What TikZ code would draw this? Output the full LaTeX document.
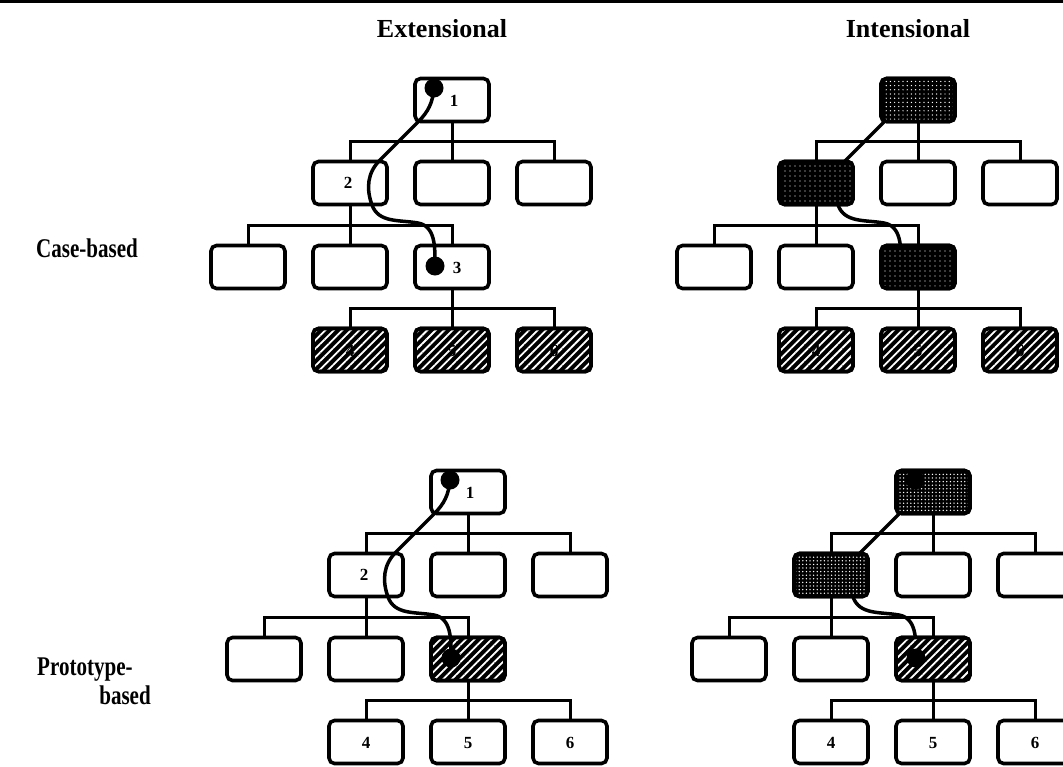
\documentclass[tikz,border=0pt]{standalone}
\usepackage{fontspec}
\usepackage{graphicx}
\setmainfont{Liberation Serif}
\usetikzlibrary{patterns.meta}
\tikzset{
  box/.style={draw, line width=3.6pt, rounded corners=5.5pt, minimum width=74pt, minimum height=43pt, inner sep=0pt, fill=white},
  link/.style={line width=3pt},
  route/.style={line width=3.5pt, line cap=round},
  hatchfill/.style={fill=black, postaction={pattern={Lines[angle=45,distance=6pt,line width=1.8pt]}, pattern color=white}, postaction={draw}},
  darkfill/.style={fill=black, postaction={pattern={Dots[distance=5pt,radius=0.6pt]}, pattern color=white}, postaction={draw}},
  midfill/.style={fill=black, postaction={pattern={Dots[distance=4.2pt,radius=0.7pt]}, pattern color=white}, postaction={draw}},
  greyfill/.style={fill=black, postaction={pattern={Dots[distance=3.6pt,radius=0.75pt]}, pattern color=white}, postaction={draw}},
  dot/.style={circle, fill=black, minimum size=19pt, inner sep=0pt},
  num/.style={font=\bfseries\fontsize{17}{17}\selectfont, inner sep=0pt},
  head/.style={font=\bfseries\fontsize{26}{28}\selectfont, inner sep=0pt},
  sidehead/.style={font=\bfseries\fontsize{27}{29}\selectfont, inner sep=0pt},
}
\newcommand\narrow[1]{\scalebox{0.78}[1]{#1}}
% #1 prefix, #2 root style, #3 node-2 style, #4 node-3 style, #5 leaf style
\newcommand\mytree[5]{%
  \node[box,#2] (#1r) at (452,-100) {};
  \node[box,#3] (#1a) at (350,-183) {};
  \node[box] (#1b) at (452,-183) {};
  \node[box] (#1c) at (554,-183) {};
  \node[box] (#1d) at (248,-267) {};
  \node[box] (#1e) at (350,-267) {};
  \node[box,#4] (#1f) at (452,-267) {};
  \node[box,#5] (#1g) at (350,-350) {};
  \node[box,#5] (#1h) at (452,-350) {};
  \node[box,#5] (#1i) at (554,-350) {};
  \draw[link] (#1a.north) -- ++(0,18) -| (#1c.north);
  \draw[link] (#1b.north) -- (#1r.south);
  \draw[link] (#1d.north) -- ++(0,18) -| (#1f.north);
  \draw[link] (#1e.north) -- (#1a.south);
  \draw[link] (#1g.north) -- ++(0,18) -| (#1i.north);
  \draw[link] (#1h.north) -- (#1f.south);
  \node[num] (#1l4) at ([yshift=-1pt]#1g.center) {4};
  \node[num] (#1l5) at ([yshift=-1pt]#1h.center) {5};
  \node[num] (#1l6) at ([yshift=-1pt]#1i.center) {6};
}
% route coordinates (need the tree nodes)
\newcommand\myroutepts[1]{%
  \coordinate (#1p0) at ([shift={(-18,12)}]#1r.center);
  \coordinate (#1p1) at ([shift={(-34,-22)}]#1r.center);
  \coordinate (#1p2) at ([shift={(30,23)}]#1a.center);
  \coordinate (#1p3) at ([shift={(22,-22)}]#1a.center);
  \coordinate (#1p4) at ([shift={(-34,44)}]#1f.center);
  \coordinate (#1p5) at ([shift={(-17,1)}]#1f.center);
}
\newcommand\myroute[1]{%
  \draw[route] (#1p0) to[out=-95,in=45] (#1p1) -- (#1p2)
     to[out=-135,in=110] (#1p3) to[out=-70,in=170] (#1p4)
     to[out=-10,in=90] (#1p5);
}
\begin{document}
\begin{tikzpicture}[x=1pt,y=1pt]
\useasboundingbox (0,0) rectangle (1063,-766);
\fill[black] (0,0) rectangle (1063,-3);

\node[head, anchor=base] (ext) at (442,-37) {Extensional};
\node[head, anchor=base] (int) at (908,-37) {Intensional};
\node[sidehead, anchor=base] (cb) at (87,-257) {\narrow{Case-based}};
\node[sidehead, anchor=base west] (pb1) at (37,-675) {\narrow{Prototype-}};
\node[sidehead, anchor=base east] (pb2) at (151,-704) {\narrow{based}};

% ---- Case-based, extensional
\begin{scope}
  \mytree{A}{}{}{}{hatchfill}
  \myroutepts{A}
  \myroute{A}
  \node[dot] (Ad1) at (Ap0) {};
  \node[dot] (Ad3) at (Ap5) {};
  \node[num] (An1) at ([shift={(2,-1)}]Ar.center) {1};
  \node[num] (An2) at ([shift={(-2,0)}]Aa.center) {2};
  \node[num] (An3) at ([shift={(5,-1)}]Af.center) {3};
\end{scope}

% ---- Case-based, intensional
\begin{scope}[shift={(466,0)}]
  \coordinate (Br) at (452,-100);
  \coordinate (Ba) at (350,-183);
  \coordinate (Bf) at (452,-267);
  \myroutepts{B}
  \myroute{B}
  \mytree{B}{midfill}{darkfill}{darkfill}{hatchfill}
\end{scope}

% ---- Prototype-based, extensional
\begin{scope}[shift={(16,-392)}]
  \mytree{C}{}{}{hatchfill}{}
  \myroutepts{C}
  \myroute{C}
  \node[dot] (Cd1) at (Cp0) {};
  \node[dot] (Cd3) at (Cp5) {};
  \node[num] (Cn1) at ([shift={(2,-1)}]Cr.center) {1};
  \node[num] (Cn2) at ([shift={(-2,0)}]Ca.center) {2};
\end{scope}

% ---- Prototype-based, intensional
\begin{scope}[shift={(481,-392)}]
  \coordinate (Dr) at (452,-100);
  \coordinate (Da) at (350,-183);
  \coordinate (Df) at (452,-267);
  \myroutepts{D}
  \myroute{D}
  \mytree{D}{greyfill}{greyfill}{hatchfill}{}
  \node[dot] (Dd1) at (Dp0) {};
  \node[dot] (Dd3) at (Dp5) {};
\end{scope}
\end{tikzpicture}
\end{document}
